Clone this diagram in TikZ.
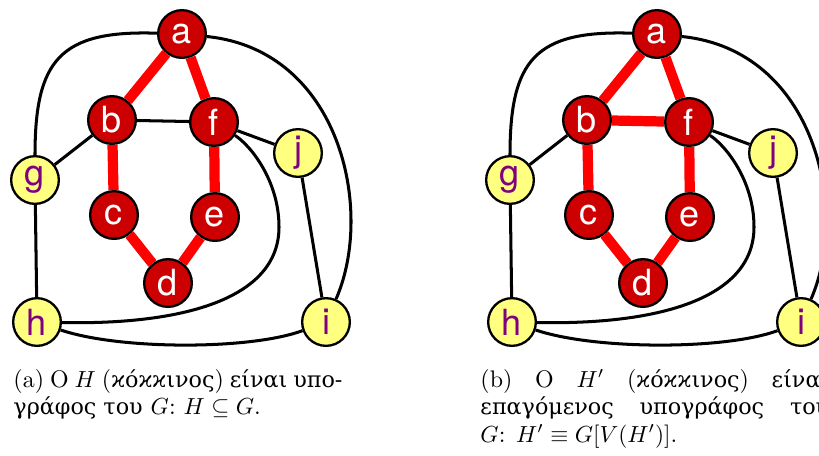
\documentclass[tikz,border=0pt]{standalone}
\usepackage{fontspec}
\newfontfamily\nodefont{TeX Gyre Heros}
\newfontfamily\grk{DejaVu Serif}[Scale=0.93]
\definecolor{nodered}{RGB}{204,0,0}
\definecolor{edgered}{RGB}{255,0,0}
\definecolor{nodeyel}{RGB}{255,255,128}
\definecolor{nodepur}{RGB}{128,0,128}
\tikzset{
  vred/.style={circle, draw=black, line width=1pt, fill=nodered, text=white,
    minimum size=20.5pt, inner sep=0pt, font=\nodefont\fontsize{15.5}{15.5}\selectfont},
  vyel/.style={vred, fill=nodeyel, text=nodepur},
  gedge/.style={line width=1.3pt, draw=black},
  hedge/.style={line width=4.4pt, draw=edgered},
  captext/.style={anchor=base west, inner sep=0pt, font=\fontsize{10.3}{12}\selectfont},
}
\newcommand\mygraph[2]{%
  \node[vred] (#1a) at (182,34) {a};
  \node[vred] (#1b) at (112,120) {b};
  \node[vred] (#1f) at (214,122) {f};
  \node[vred] (#1c) at (114,215) {c};
  \node[vred] (#1e) at (215,217) {e};
  \node[vred] (#1d) at (168,283) {d};
  \node[vyel] (#1g) at (35,180) {g};
  \node[vyel] (#1j) at (298,153) {j};
  \node[vyel] (#1h) at (37,322) {h};
  \node[vyel] (#1i) at (326,322) {i};
  \coordinate (#1fh) at (279,227);
  % black edges
  \draw[gedge] (#1a) .. controls (60,30) and (35,60) .. (#1g);
  \draw[gedge] (#1a) .. controls (340,50) and (375,210) .. (#1i);
  \draw[gedge] (#1f) .. controls (250,145) and (279,180) .. (#1fh)
                     .. controls (279,300) and (180,325) .. (#1h);
  \draw[gedge] (#1h) .. controls (120,350) and (250,350) .. (#1i);
  \draw[gedge] (#1b) -- (#1g);
  \draw[gedge] (#1f) -- (#1j);
  \draw[gedge] (#1j) -- (#1i);
  \draw[gedge] (#1g) -- (#1h);
  % subgraph edges
  \draw[#2] (#1b) -- (#1f);
  \draw[hedge] (#1a) -- (#1b);
  \draw[hedge] (#1a) -- (#1f);
  \draw[hedge] (#1b) -- (#1c);
  \draw[hedge] (#1f) -- (#1e);
  \draw[hedge] (#1c) -- (#1d);
  \draw[hedge] (#1e) -- (#1d);
}
\begin{document}
\begin{tikzpicture}[x=0.43pt, y=-0.43pt]
  \useasboundingbox (0,0) rectangle (819,455);
  \clip (0,0) rectangle (819,455);
  \mygraph{L}{gedge}
  \begin{scope}[shift={(475,0)}]
    \mygraph{R}{hedge}
  \end{scope}
  % captions
  \node[captext] (capa1) at (13,387)
    {\makebox[141.5pt][s]{(a) O $H$ ({\grk ϰόϰϰινος}) {\grk είναι} {\grk υπο-}}};
  \node[captext] (capa2) at (13,414)
    {{\grk γράφος του} $G$:\ $H\subseteq G$.};
  \node[captext] (capb1) at (480,387)
    {\makebox[150pt][s]{(b) O $H'$ ({\grk ϰόϰϰινος}) {\grk είναι}}};
  \node[captext] (capb2) at (480,414)
    {\makebox[150pt][s]{\grk επαγόμενος υπογράφος του}};
  \node[captext] (capb3) at (480,442)
    {$G$: $H'\equiv G[V(H')]$.};
\end{tikzpicture}
\end{document}
